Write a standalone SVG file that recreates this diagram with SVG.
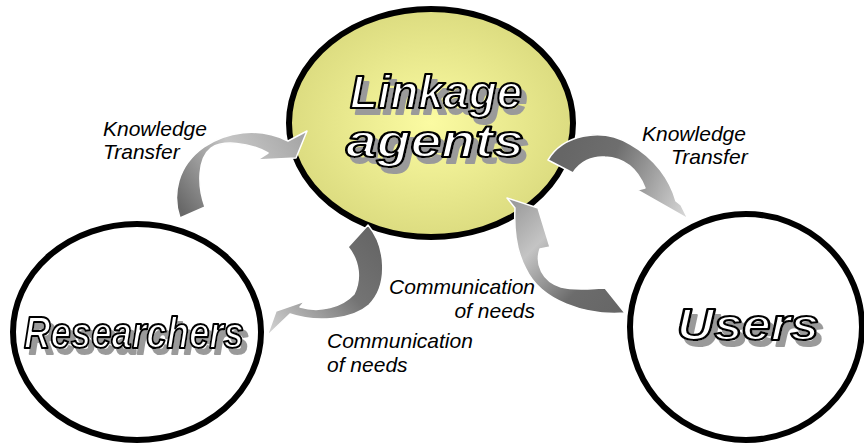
<svg xmlns="http://www.w3.org/2000/svg" width="864" height="446" viewBox="0 0 864 446">
<defs>
<radialGradient id="gYellow" cx="0.5" cy="0.5" r="0.5">
<stop offset="0" stop-color="#fbfba2"/>
<stop offset="1" stop-color="#dcdc80"/>
</radialGradient>
<linearGradient id="gA1" gradientUnits="userSpaceOnUse" x1="185" y1="215" x2="300" y2="135">
<stop offset="0" stop-color="#686868"/>
<stop offset="0.55" stop-color="#c6c6c6"/>
<stop offset="1" stop-color="#a6a6a6"/>
</linearGradient>
<linearGradient id="gA2" gradientUnits="userSpaceOnUse" x1="560" y1="160" x2="685" y2="215">
<stop offset="0" stop-color="#666666"/>
<stop offset="0.35" stop-color="#6e6e6e"/>
<stop offset="1" stop-color="#d6d6d6"/>
</linearGradient>
<linearGradient id="gA3" gradientUnits="userSpaceOnUse" x1="372" y1="235" x2="270" y2="332">
<stop offset="0" stop-color="#666666"/>
<stop offset="0.4" stop-color="#747474"/>
<stop offset="1" stop-color="#d2d2d2"/>
</linearGradient>
<linearGradient id="gA4" gradientUnits="userSpaceOnUse" x1="620" y1="312" x2="512" y2="205">
<stop offset="0" stop-color="#666666"/>
<stop offset="0.3" stop-color="#6c6c6c"/>
<stop offset="0.7" stop-color="#c4c4c4"/>
<stop offset="1" stop-color="#9c9c9c"/>
</linearGradient>
<filter id="fShadow" x="-10%" y="-20%" width="130%" height="150%">
<feFlood flood-color="#9a9a9a" result="c"/>
<feComposite in="c" in2="SourceAlpha" operator="in" result="s"/>
<feOffset in="s" dx="5" dy="6" result="o"/>
<feMerge>
<feMergeNode in="o"/>
<feMergeNode in="SourceGraphic"/>
</feMerge>
</filter>
</defs>
<style>
.node { stroke: #000; stroke-width: 6; }
.title { font-family: "Liberation Sans", Arial, sans-serif; font-weight: bold; font-style: italic; fill: #fff; stroke: #000; stroke-width: 2.2; stroke-linejoin: round; filter: url(#fShadow); }
.arrow { stroke: #fff; stroke-width: 1.5; stroke-linejoin: round; }
.label { font-family: "Liberation Sans", Arial, sans-serif; font-style: italic; font-size: 21px; fill: #000; }
</style>
<rect width="864" height="446" fill="#fff"/>

<g id="node-linkage">
<ellipse class="node" cx="431" cy="123" rx="142" ry="114" fill="url(#gYellow)"/>
<text class="title" font-size="46" x="350" y="108" textLength="172" lengthAdjust="spacingAndGlyphs">Linkage</text>
<text class="title" font-size="46" x="346" y="157" textLength="178" lengthAdjust="spacingAndGlyphs">agents</text>
</g>

<g id="node-researchers">
<ellipse class="node" cx="137" cy="332" rx="124" ry="108" fill="#fff"/>
<text class="title" font-size="44" x="24" y="348" textLength="220" lengthAdjust="spacingAndGlyphs">Researchers</text>
</g>

<g id="node-users">
<ellipse class="node" cx="746" cy="327" rx="116" ry="113" fill="#fff" stroke-width="7"/>
<text class="title" font-size="44" x="677" y="340" textLength="142" lengthAdjust="spacingAndGlyphs">Users</text>
</g>

<g id="connectors">
<path class="arrow" fill="url(#gA1)" d="M180 218 C172 195 177 166 204 147 C226 132 258 126 288 141 L307 131 L296 158 L257 160 L268 153 C248 142 223 140 211 148 C198 158 197 185 205 207 Z"/>
<path class="arrow" fill="url(#gA2)" d="M548 160 C562 136 600 126 630 144 C655 158 670 180 676 201 L681 205 L688 219 L637 190 L645 188 C638 170 625 158 605 157 C592 156 580 162 573 173 Z"/>
<path class="arrow" fill="url(#gA3)" d="M368 225 C386 246 389 285 369 305 C352 320 316 323 290 314 L267 336 L276 311 L305 301 L300 307 C320 313 342 307 354 294 C361 280 360 262 348 247 Z"/>
<path class="arrow" fill="url(#gA4)" d="M625 313 C586 316 541 301 526 269 C515 249 514 226 515 208 L507 198 L538 208 L550 247 L540 249 C535 264 542 281 561 287 C576 291 595 288 605 288 Z"/>
</g>

<g id="labels">
<text class="label" x="103" y="136">Knowledge</text>
<text class="label" x="103" y="159">Transfer</text>
<text class="label" x="642" y="141">Knowledge</text>
<text class="label" x="671" y="164">Transfer</text>
<text class="label" x="535" y="294" text-anchor="end">Communication</text>
<text class="label" x="535" y="318" text-anchor="end">of needs</text>
<text class="label" x="327" y="348">Communication</text>
<text class="label" x="327" y="372">of needs</text>
</g>
</svg>
